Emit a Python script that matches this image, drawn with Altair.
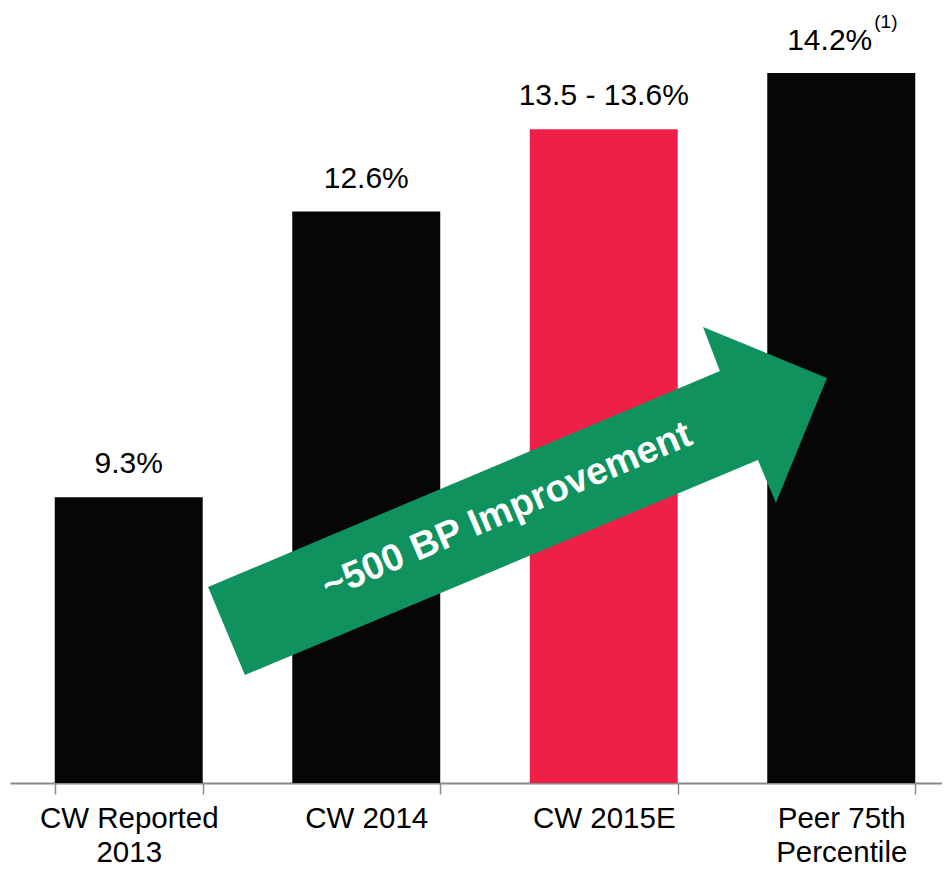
import altair as alt
import pandas as pd

# ---- data ----
categories = ["CW Reported|2013", "CW 2014", "CW 2015E", "Peer 75th|Percentile"]
values = [9.3, 12.6, 13.55, 14.2]
value_labels = ["9.3%", "12.6%", "13.5 - 13.6%", "14.2%"]
footnotes = ["", "", "", "(1)"]
bar_colors = ["#060606", "#060606", "#EE2047", "#060606"]

# arrow outline (x in category-band units 0..4, y in % units)
arrow_x = [0.834, 2.989, 2.918, 3.440, 3.225, 3.149, 0.989]
arrow_y = [8.263, 10.757, 11.266, 10.677, 9.233, 9.730, 7.247]
arrow_text = ["~500 BP Improvement"]
arrow_text_x = [2.093]
arrow_text_y = [9.14]

FONT = "Liberation Sans, Arial, sans-serif"
XRANGE = [0, 950]

bars_df = pd.DataFrame({
    "cat": categories, "value": values, "label": value_labels,
    "note": footnotes, "color": bar_colors, "idx": list(range(4)),
})
arrow_df = pd.DataFrame({"ax": arrow_x, "ay": arrow_y, "i": list(range(len(arrow_x)))})
atext_df = pd.DataFrame({"t": arrow_text, "tx": arrow_text_x, "ty": arrow_text_y})

yscale = alt.Scale(domain=[6, 14.8], nice=False, zero=False)


def xband():
    return alt.Scale(domain=categories, range=XRANGE, paddingInner=0.377, paddingOuter=0.1885)


def xquant():
    return alt.Scale(domain=[0, 4], range=XRANGE, nice=False, zero=False)


x_axis = alt.Axis(
    title=None, labelAngle=0, tickBand="extent", domainColor="#8a8a8a",
    domainWidth=2, tickColor="#8a8a8a", tickWidth=1.5, tickSize=11,
    labelFont=FONT, labelFontSize=29.5, labelColor="#000000", labelPadding=10,
    labelLineHeight=34, labelExpr="split(datum.label, '|')", labelBaseline="top",
    labelLimit=0,
)

base = alt.Chart(bars_df)

bars = base.mark_bar().encode(
    x=alt.X("cat:N", sort=categories, scale=xband(), axis=x_axis),
    y=alt.Y("value:Q", scale=yscale, axis=None),
    y2=alt.datum(6),
    color=alt.Color("color:N", scale=None),
)


def xenc():
    return alt.X("cat:N", sort=categories, scale=xband(), axis=None)


labels_c = base.transform_filter("datum.idx < 3").mark_text(
    font=FONT, fontSize=30, color="#000000", baseline="alphabetic", dy=-24
).encode(x=xenc(), y=alt.Y("value:Q", scale=yscale, axis=None), text="label:N")

labels_r = base.transform_filter("datum.idx == 3").mark_text(
    font=FONT, fontSize=30, color="#000000", baseline="alphabetic", align="right",
    dx=31, dy=-23
).encode(x=xenc(), y=alt.Y("value:Q", scale=yscale, axis=None), text="label:N")

notes = base.transform_filter("datum.note != ''").mark_text(
    font=FONT, fontSize=19, color="#000000", baseline="alphabetic", align="left",
    dx=33, dy=-45
).encode(x=xenc(), y=alt.Y("value:Q", scale=yscale, axis=None), text="note:N")

arrow = alt.Chart(arrow_df).mark_line(
    filled=True, color="#0F925E", strokeWidth=0
).encode(
    x=alt.X("ax:Q", scale=xquant(), axis=None),
    y=alt.Y("ay:Q", scale=yscale, axis=None),
    order="i:Q",
)

arrow_label = alt.Chart(atext_df).mark_text(
    font=FONT, fontSize=38, fontWeight="bold", color="#FFFFFF", angle=337,
    align="center", baseline="middle"
).encode(
    x=alt.X("tx:Q", scale=xquant(), axis=None),
    y=alt.Y("ty:Q", scale=yscale, axis=None),
    text="t:N",
)

chart = alt.layer(bars, arrow, arrow_label, labels_c, labels_r, notes).resolve_scale(
    x="independent"
).properties(
    width=932, height=762,
    autosize=alt.AutoSizeParams(type="none"),
    padding={"left": 2, "top": 13, "right": 0, "bottom": 89},
    background="#FFFFFF",
).configure_view(strokeWidth=0)

chart.save("out.html", embed_options={"renderer": "svg", "actions": False})
